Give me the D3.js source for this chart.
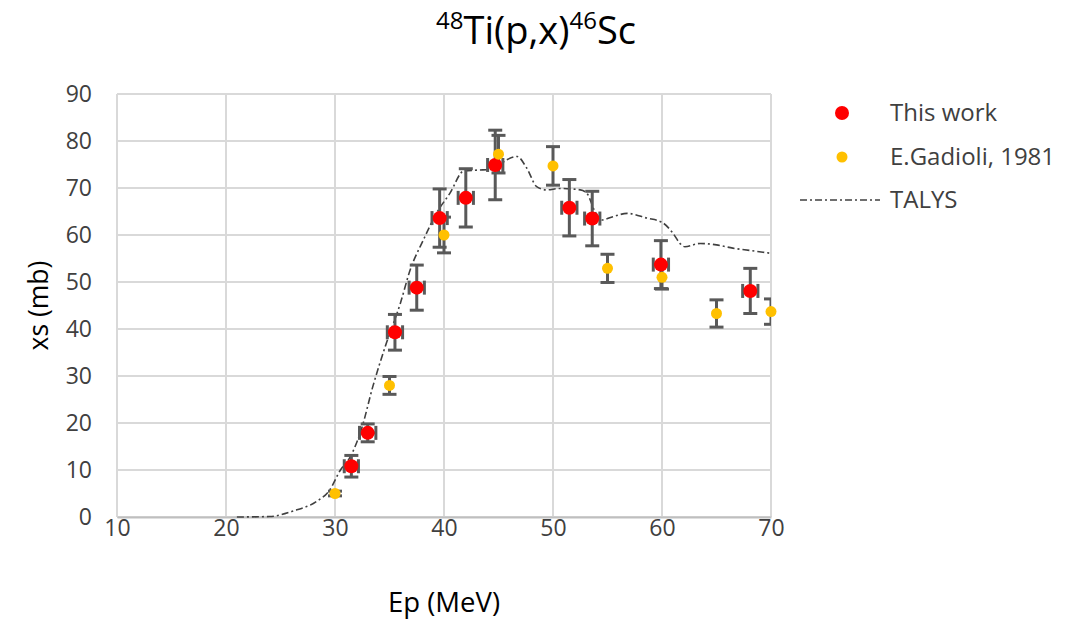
<!DOCTYPE html>
<html>
<head>
<meta charset="utf-8">
<script src="https://cdn.jsdelivr.net/npm/d3@7"></script>
<style>
  html, body { margin: 0; padding: 0; background: #fff; }
  svg { display: block; font-family: "Open Sans", "Noto Sans", sans-serif; }
</style>
</head>
<body>
<svg id="chart" width="1084" height="619"></svg>
<script>
// Measured cross sections, this work: energy (MeV), xs (mb), uncertainties
const workEnergy = [31.5, 33.0, 35.5, 37.5, 39.6, 42.0, 44.7, 51.5, 53.6, 59.9, 68.1];
const workXs     = [10.8, 17.9, 39.3, 48.8, 63.6, 67.9, 74.9, 65.8, 63.5, 53.7, 48.1];
const workXsErr  = [2.3, 1.9, 3.8, 4.8, 6.2, 6.2, 7.4, 6.0, 5.8, 5.1, 4.8];
const workEErr   = [0.65, 0.75, 0.7, 0.7, 0.7, 0.7, 0.7, 0.7, 0.7, 0.7, 0.7];

// E.Gadioli, 1981
const gadEnergy = [30, 35, 40, 45, 50, 55, 60, 65, 70];
const gadXs     = [5.0, 28.0, 60.0, 77.2, 74.7, 52.9, 51.0, 43.3, 43.7];
const gadXsErr  = [0.5, 1.9, 3.8, 4.0, 4.1, 3.0, 2.5, 2.9, 2.7];

// TALYS calculation
const talysEnergy = [21.0, 24.0, 26.2, 28.3, 29.5, 30.5, 31.4, 32.4, 33.5, 34.6, 36.0, 36.9, 38.1, 39.3, 40.55, 41.8, 43.0, 44.5, 45.75, 46.7, 47.6, 48.5, 49.4, 50.6, 52.5, 53.1, 53.85, 54.5, 55.5, 56.8, 58.6, 60.0, 61.0, 61.65, 62.1, 63.5, 65.0, 66.5, 68.1, 70.0];
const talysXs     = [0.0, 0.1, 1.3, 3.3, 5.7, 10.0, 12.8, 18.5, 28.0, 36.2, 45.5, 52.6, 58.9, 64.6, 68.9, 73.6, 73.8, 74.0, 76.0, 76.7, 74.2, 70.3, 69.6, 69.9, 69.6, 68.9, 65.0, 63.2, 63.9, 64.6, 63.6, 62.7, 60.4, 58.2, 57.5, 58.2, 57.9, 57.2, 56.7, 56.1];

const xTicks = [10, 20, 30, 40, 50, 60, 70];
const yTicks = [0, 10, 20, 30, 40, 50, 60, 70, 80, 90];

const svg = d3.select("#chart");
const W = 1084, H = 619;
const margin = { left: 117, right: W - 771, top: 94, bottom: H - 517 };

const x = d3.scaleLinear().domain([10, 70]).range([margin.left, W - margin.right]);
const y = d3.scaleLinear().domain([0, 90]).range([H - margin.bottom, margin.top]);

const gridColor = "#d9d9d9";
const textColor = "#404040";
const barColor = "#595959";

// clip region for error bars
svg.append("defs").append("clipPath").attr("id", "plot-clip")
  .append("rect")
  .attr("x", x(10)).attr("y", y(90))
  .attr("width", x(70) - x(10)).attr("height", y(0) - y(90));

// gridlines
const grid = svg.append("g");
grid.selectAll(".gx").data(xTicks).join("line")
  .attr("x1", d => x(d)).attr("x2", d => x(d))
  .attr("y1", y(0)).attr("y2", y(90))
  .attr("stroke", gridColor).attr("stroke-width", 2);
grid.selectAll(".gy").data(yTicks).join("line")
  .attr("x1", x(10)).attr("x2", x(70))
  .attr("y1", d => y(d)).attr("y2", d => y(d))
  .attr("stroke", gridColor).attr("stroke-width", 2);

// axes
const xAxis = svg.append("g").attr("transform", `translate(0,${y(0)})`)
  .call(d3.axisBottom(x).tickValues(xTicks).tickSize(0).tickPadding(3));
const yAxis = svg.append("g").attr("transform", `translate(${x(10)},0)`)
  .call(d3.axisLeft(y).tickValues(yTicks).tickSize(0).tickPadding(25));
[xAxis, yAxis].forEach(a => {
  a.select(".domain").attr("stroke", "#bfbfbf").attr("stroke-width", 2);
  a.selectAll("text").attr("font-size", 23).attr("fill", textColor)
    .attr("font-family", "Open Sans, sans-serif");
});
yAxis.select(".domain").remove();

// TALYS curve
const line = d3.line().x((d, i) => x(talysEnergy[i])).y(d => y(d)).curve(d3.curveMonotoneX);
svg.append("path").datum(talysXs)
  .attr("d", line)
  .attr("fill", "none").attr("stroke", "#404040").attr("stroke-width", 1.6)
  .attr("stroke-dasharray", "7,3,2,3");

// error bars
const errG = svg.append("g").attr("clip-path", "url(#plot-clip)")
  .attr("stroke", barColor).attr("stroke-width", 3).attr("fill", "none");
const cap = 7;

function vBars(ex, ey, err) {
  ex.forEach((e, i) => {
    const cx = x(e), y1 = y(ey[i] + err[i]), y2 = y(ey[i] - err[i]);
    errG.append("line").attr("x1", cx).attr("x2", cx).attr("y1", y1).attr("y2", y2);
    errG.append("line").attr("x1", cx - cap).attr("x2", cx + cap).attr("y1", y1).attr("y2", y1);
    errG.append("line").attr("x1", cx - cap).attr("x2", cx + cap).attr("y1", y2).attr("y2", y2);
  });
}
function hBars(ex, ey, err) {
  ex.forEach((e, i) => {
    const cy = y(ey[i]), x1 = x(e - err[i]), x2 = x(e + err[i]);
    errG.append("line").attr("x1", x1).attr("x2", x2).attr("y1", cy).attr("y2", cy);
    errG.append("line").attr("x1", x1).attr("x2", x1).attr("y1", cy - cap).attr("y2", cy + cap);
    errG.append("line").attr("x1", x2).attr("x2", x2).attr("y1", cy - cap).attr("y2", cy + cap);
  });
}
vBars(workEnergy, workXs, workXsErr);
hBars(workEnergy, workXs, workEErr);
vBars(gadEnergy, gadXs, gadXsErr);

// markers
svg.append("g").selectAll("circle").data(workXs).join("circle")
  .attr("cx", (d, i) => x(workEnergy[i])).attr("cy", d => y(d))
  .attr("r", 7).attr("fill", "#ff0000");
svg.append("g").selectAll("circle").data(gadXs).join("circle")
  .attr("cx", (d, i) => x(gadEnergy[i])).attr("cy", d => y(d))
  .attr("r", 5.5).attr("fill", "#ffc000");

// title
const title = svg.append("text").attr("x", 536).attr("y", 44)
  .attr("text-anchor", "middle").attr("font-size", 38).attr("fill", "#000");
title.append("tspan").attr("font-size", 24).attr("dy", -15).text("48");
title.append("tspan").attr("dy", 15).text("Ti(p,x)");
title.append("tspan").attr("font-size", 24).attr("dy", -15).text("46");
title.append("tspan").attr("dy", 15).text("Sc");

// axis titles
svg.append("text").attr("x", x(40)).attr("y", 612)
  .attr("text-anchor", "middle").attr("font-size", 27.5).attr("fill", "#000")
  .text("Ep (MeV)");
svg.append("text").attr("transform", `translate(48,${(y(0) + y(90)) / 2}) rotate(-90)`)
  .attr("text-anchor", "middle").attr("font-size", 26.5).attr("fill", "#000")
  .text("xs (mb)");

// legend
const legend = svg.append("g");
const lx = 842, tx = 890;
legend.append("circle").attr("cx", lx).attr("cy", 113).attr("r", 7).attr("fill", "#ff0000");
legend.append("circle").attr("cx", lx).attr("cy", 157).attr("r", 5.5).attr("fill", "#ffc000");
legend.append("line").attr("x1", 800).attr("x2", 880).attr("y1", 200).attr("y2", 200)
  .attr("stroke", "#404040").attr("stroke-width", 1.6).attr("stroke-dasharray", "7,3,2,3");
[["This work", 113], ["E.Gadioli, 1981", 157], ["TALYS", 200]].forEach(([t, cy]) => {
  legend.append("text").attr("x", tx).attr("y", cy).attr("dy", "0.35em")
    .attr("font-size", 24).attr("fill", textColor).text(t);
});
</script>
</body>
</html>
